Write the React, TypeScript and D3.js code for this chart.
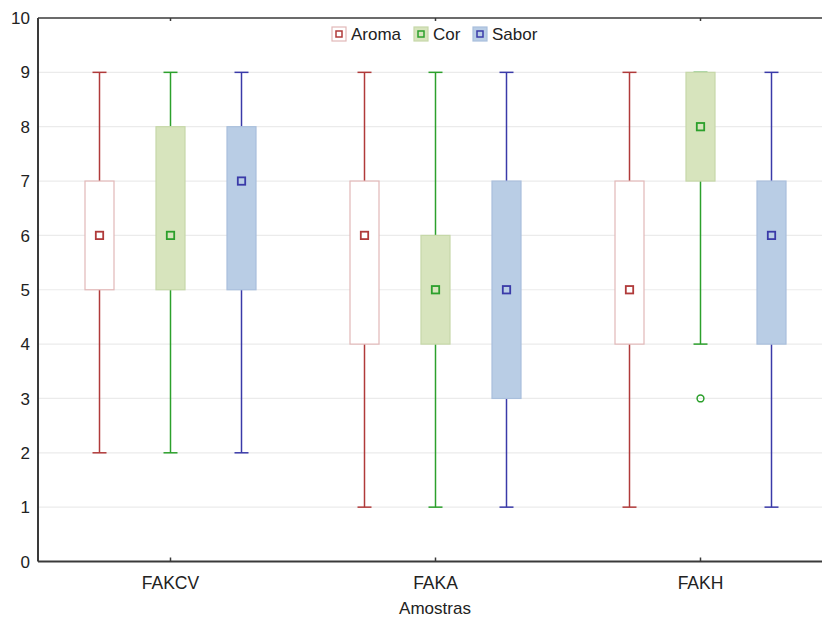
import * as d3 from "d3";
import React, { useEffect, useRef } from "react";

const samples = ["FAKCV", "FAKA", "FAKH"];
const attributes = ["Aroma", "Cor", "Sabor"];

// [min, q1, median, q3, max] per sample, per attribute
const aromaStats = [
  [2, 5, 6, 7, 9],
  [1, 4, 6, 7, 9],
  [1, 4, 5, 7, 9],
];
const corStats = [
  [2, 5, 6, 8, 9],
  [1, 4, 5, 6, 9],
  [4, 7, 8, 9, 9],
];
const saborStats = [
  [2, 5, 7, 8, 9],
  [1, 3, 5, 7, 9],
  [1, 4, 6, 7, 9],
];
const corOutliers = [[], [], [3]];
const yTicks = [0, 1, 2, 3, 4, 5, 6, 7, 8, 9, 10];

const styles = [
  { line: "#b03a3a", boxStroke: "#e2b8b8", boxFill: "#ffffff" },
  { line: "#2ca02c", boxStroke: "#c6d8a8", boxFill: "#d7e4bd" },
  { line: "#3a3aa8", boxStroke: "#a9bfdc", boxFill: "#b9cde5" },
];

export default function App() {
  const ref = useRef<SVGSVGElement | null>(null);

  useEffect(() => {
    const svg = d3.select(ref.current);
    svg.selectAll("*").remove();

    const width = 822;
    const height = 619;
    const margin = { top: 18, left: 38, bottom: 57.5 };
    const font = "Arial, 'Liberation Sans', sans-serif";

    const x = d3.scaleBand().domain(samples).range([margin.left, 833]);
    const y = d3
      .scaleLinear()
      .domain([0, 10])
      .range([height - margin.bottom, margin.top]);

    const offset = d3.scalePoint().domain(attributes).range([-71, 71]);

    const g = svg.append("g");

    // grid
    g.selectAll("line.grid")
      .data(yTicks.filter((t) => t > 0 && t < 10))
      .enter()
      .append("line")
      .attr("x1", margin.left)
      .attr("x2", width)
      .attr("y1", (d) => y(d))
      .attr("y2", (d) => y(d))
      .attr("stroke", "#ebebeb")
      .attr("stroke-width", 1.2);

    const all = [aromaStats, corStats, saborStats];
    const boxW = 29;
    const capW = 14;

    all.forEach((stats, ai) => {
      const st = styles[ai];
      const attr = attributes[ai];
      stats.forEach((s, si) => {
        const cx = (x(samples[si]) ?? 0) + x.bandwidth() / 2 + (offset(attr) ?? 0);
        const [mn, q1, med, q3, mx] = s;
        const bg = g.append("g");
        // whiskers
        bg.append("line")
          .attr("x1", cx).attr("x2", cx)
          .attr("y1", y(mx)).attr("y2", y(q3))
          .attr("stroke", st.line).attr("stroke-width", 1.5);
        bg.append("line")
          .attr("x1", cx).attr("x2", cx)
          .attr("y1", y(q1)).attr("y2", y(mn))
          .attr("stroke", st.line).attr("stroke-width", 1.5);
        [mn, mx].forEach((v) => {
          bg.append("line")
            .attr("x1", cx - capW / 2).attr("x2", cx + capW / 2)
            .attr("y1", y(v)).attr("y2", y(v))
            .attr("stroke", st.line).attr("stroke-width", 1.5);
        });
        // box
        bg.append("rect")
          .attr("x", cx - boxW / 2)
          .attr("y", y(q3))
          .attr("width", boxW)
          .attr("height", y(q1) - y(q3))
          .attr("fill", st.boxFill)
          .attr("stroke", st.boxStroke)
          .attr("stroke-width", 1.2);
        // median marker
        bg.append("rect")
          .attr("x", cx - 3.7)
          .attr("y", y(med) - 3.7)
          .attr("width", 7.4)
          .attr("height", 7.4)
          .attr("fill", "none")
          .attr("stroke", st.line)
          .attr("stroke-width", 1.8);
      });
    });

    // outliers
    corOutliers.forEach((vals, si) => {
      const cx = (x(samples[si]) ?? 0) + x.bandwidth() / 2 + (offset("Cor") ?? 0);
      vals.forEach((v) => {
        g.append("circle")
          .attr("cx", cx)
          .attr("cy", y(v))
          .attr("r", 3.4)
          .attr("fill", "none")
          .attr("stroke", styles[1].line)
          .attr("stroke-width", 1.5);
      });
    });

    // frame
    const axisColor = "#3a3a3a";
    g.append("line")
      .attr("x1", margin.left).attr("x2", margin.left)
      .attr("y1", y(10)).attr("y2", y(0))
      .attr("stroke", axisColor).attr("stroke-width", 2);
    g.append("line")
      .attr("x1", margin.left).attr("x2", width)
      .attr("y1", y(0)).attr("y2", y(0))
      .attr("stroke", axisColor).attr("stroke-width", 2);
    g.append("line")
      .attr("x1", margin.left).attr("x2", width)
      .attr("y1", y(10)).attr("y2", y(10))
      .attr("stroke", axisColor).attr("stroke-width", 1.5);

    // x ticks (inward)
    samples.forEach((s) => {
      const cx = (x(s) ?? 0) + x.bandwidth() / 2;
      g.append("line")
        .attr("x1", cx).attr("x2", cx)
        .attr("y1", y(0)).attr("y2", y(0) - 4)
        .attr("stroke", axisColor).attr("stroke-width", 1.5);
      g.append("line")
        .attr("x1", cx).attr("x2", cx)
        .attr("y1", y(10)).attr("y2", y(10) + 3)
        .attr("stroke", axisColor).attr("stroke-width", 1.5);
      g.append("text")
        .attr("x", cx)
        .attr("y", y(0) + 27)
        .attr("text-anchor", "middle")
        .attr("font-family", font)
        .attr("font-size", 17.5)
        .attr("fill", "#222")
        .text(s);
    });

    // y tick labels
    g.selectAll("text.ytick")
      .data(yTicks)
      .enter()
      .append("text")
      .attr("x", 30)
      .attr("y", (d) => y(d))
      .attr("dy", "0.36em")
      .attr("text-anchor", "end")
      .attr("font-family", font)
      .attr("font-size", 17)
      .attr("fill", "#222")
      .text((d) => d);

    // x title
    g.append("text")
      .attr("x", 435)
      .attr("y", 614)
      .attr("text-anchor", "middle")
      .attr("font-family", font)
      .attr("font-size", 17)
      .attr("fill", "#222")
      .text("Amostras");

    // legend
    const legendX = [332, 414, 473];
    attributes.forEach((a, i) => {
      const st = styles[i];
      const lx = legendX[i];
      const ly = 34;
      g.append("rect")
        .attr("x", lx).attr("y", ly - 7)
        .attr("width", 14).attr("height", 14)
        .attr("fill", st.boxFill)
        .attr("stroke", st.boxStroke)
        .attr("stroke-width", 1.2);
      g.append("rect")
        .attr("x", lx + 4).attr("y", ly - 3)
        .attr("width", 6).attr("height", 6)
        .attr("fill", "none")
        .attr("stroke", st.line)
        .attr("stroke-width", 1.5);
      g.append("text")
        .attr("x", lx + 19)
        .attr("y", ly)
        .attr("dy", "0.36em")
        .attr("font-family", font)
        .attr("font-size", 17)
        .attr("fill", "#222")
        .text(a);
    });
  }, []);

  return (
    <svg
      ref={ref}
      width={822}
      height={619}
      style={{ position: "absolute", left: 0, top: 0, background: "#fff" }}
    />
  );
}
